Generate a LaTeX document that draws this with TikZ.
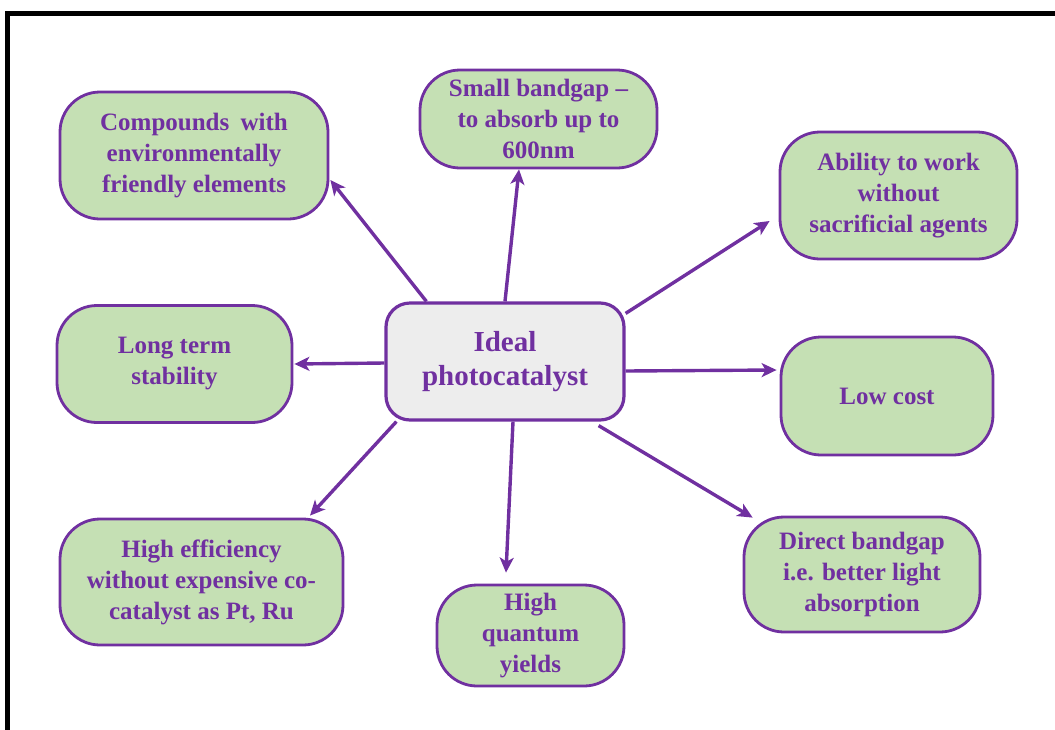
\documentclass[tikz,border=0pt]{standalone}
\usepackage{fontspec}
\setmainfont{Liberation Serif}
\usetikzlibrary{arrows.meta}
\definecolor{plum}{HTML}{7030A0}
\definecolor{leaf}{HTML}{C5E0B4}
\definecolor{mist}{HTML}{EDEDED}
\tikzset{
  idea/.style={draw=plum, line width=2.8pt, fill=leaf, rounded corners=40pt,
    align=center, text=plum, inner sep=0pt,
    font=\bfseries\fontsize{25}{31}\selectfont},
  hub/.style={draw=plum, line width=3.2pt, fill=mist, rounded corners=24pt,
    align=center, text=plum, inner sep=0pt,
    minimum width=238pt, minimum height=117pt,
    font=\bfseries\fontsize{29}{34}\selectfont},
  arr/.style={draw=plum, line width=3.4pt,
    -{Stealth[length=15pt,width=14pt,inset=4pt]}},
  frame/.style={draw=black, line width=5pt}
}
\begin{document}
\begin{tikzpicture}[x=1pt, y=-1pt]
\useasboundingbox (0,0) rectangle (1055,729);
% open frame: top and left edges
\draw[frame] (7.5,745) -- (7.5,13.5) -- (1070,13.5);

% central concept
\node[hub] (c) at (505,361.5) {Ideal\\photocatalyst};

% surrounding properties
\node[idea, minimum width=268pt, minimum height=127pt] (n1) at (194,155.5)
  {Compounds\hspace{0.45em}with\\environmentally\\friendly elements};
\node[idea, minimum width=237pt, minimum height=98pt] (n2) at (538.5,119)
  {Small bandgap --\\to absorb up to\\600nm};
\node[idea, minimum width=237pt, minimum height=127pt] (n3) at (898.5,195.5)
  {Ability to work\\without\\sacrificial agents};
\node[idea, minimum width=235pt, minimum height=117pt] (n4) at (174.5,364)
  {Long term\\stability};
\node[idea, minimum width=212pt, minimum height=118pt] (n5) at (887,396)
  {Low cost};
\node[idea, minimum width=283pt, minimum height=126pt] (n6) at (201.5,582)
  {High efficiency\\without expensive co-\\catalyst as Pt, Ru};
\node[idea, minimum width=187pt, minimum height=101pt] (n7) at (530.5,635.5)
  {High\\quantum\\yields};
\node[idea, minimum width=236pt, minimum height=115pt] (n8) at (862,574.5)
  {Direct bandgap\\i.e. better light\\absorption};

% connectors from the hub (yshift is in page units: negative = downwards)
\draw[arr] ([xshift=42pt]c.north west) -- ([xshift=1pt,yshift=-24.5pt]n1.east);
\draw[arr] (c.north) -- ([xshift=-19.5pt]n2.south);
\draw[arr] ([yshift=-12pt]c.north east) -- ([xshift=-9pt,yshift=-25.5pt]n3.west);
\draw[arr] ([yshift=-1.5pt]c.west) -- ([xshift=1pt]n4.east);
\draw[arr] ([yshift=-9.5pt]c.east) -- ([xshift=-3pt,yshift=26pt]n5.west);
\draw[arr] ([xshift=12pt]c.south west) -- ([xshift=108.5pt,yshift=2pt]n6.north);
\draw[arr] ([xshift=8pt]c.south) -- ([xshift=-24.5pt,yshift=11pt]n7.north);
\draw[arr] ([xshift=-27pt,yshift=-4pt]c.south east) -- ([xshift=10pt,yshift=-2pt]n8.north west);
\end{tikzpicture}
\end{document}
